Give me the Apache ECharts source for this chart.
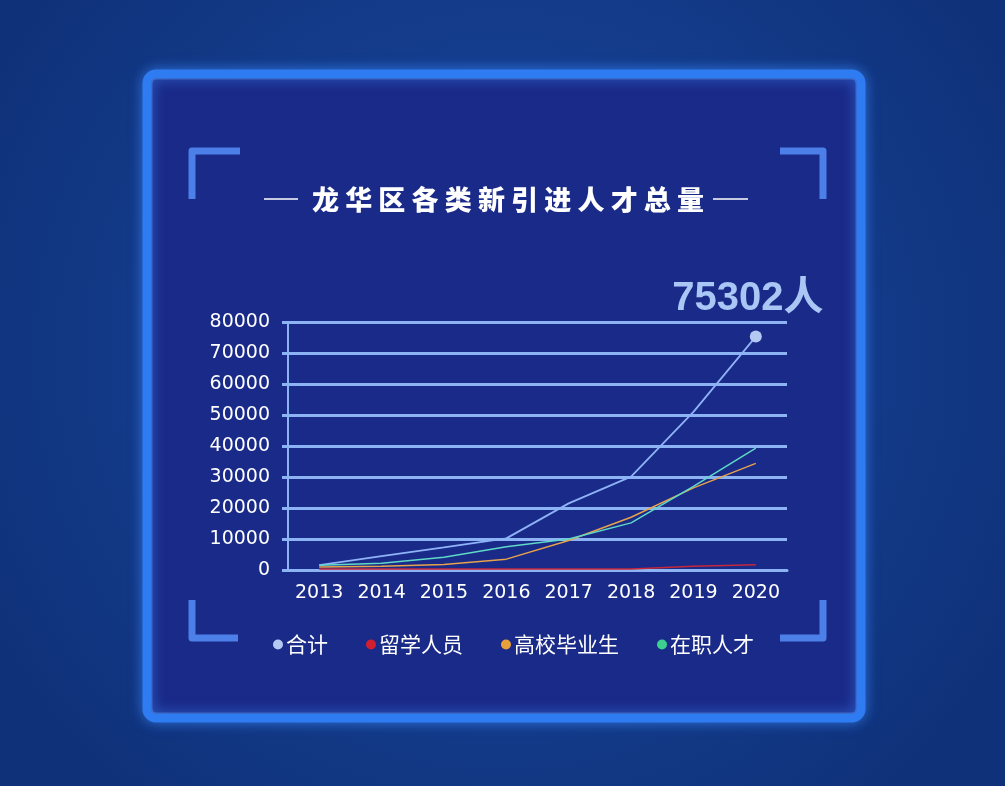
<!DOCTYPE html>
<html lang="zh">
<head>
    <meta charset="UTF-8">
    <title>龙华区各类新引进人才总量</title>
    <style>
        html, body { margin: 0; padding: 0; background: #143a88; }
        #main { width: 1005px; height: 786px; }
    </style>
    <script type="text/javascript" src="https://cdn.jsdelivr.net/npm/echarts@6/dist/echarts.min.js"></script>
</head>
<body>
<div id="main"></div>
<script>
    // 年份
    var years = ['2013', '2014', '2015', '2016', '2017', '2018', '2019', '2020'];
    // 各类人才（人）
    var total     = [1600, 4500, 7300, 10200, 21500, 30100, 51000, 75302];
    var overseas  = [300, 300, 300, 300, 300, 300, 1200, 1700];
    var graduates = [1000, 1200, 1800, 3500, 9500, 17000, 26500, 34400];
    var employed  = [1500, 2200, 4100, 7500, 10000, 15200, 27000, 39300];
    var yTicks = { min: 0, max: 80000, step: 10000 };

    var FONT = '"Noto Sans CJK SC", "Noto Sans", sans-serif';
    var NUM_FONT = '"Liberation Sans", Arial, "Noto Sans CJK SC", sans-serif';
    var AXIS_FONT = '"DejaVu Sans", "Liberation Sans", sans-serif';
    var gridColor = '#8cb4f5';
    var last = years.length - 1;

    var chart = echarts.init(document.getElementById('main'));

    function line(name, data, lineColor, iconColor) {
        return {
            name: name,
            type: 'line',
            data: data,
            symbol: 'circle',
            showSymbol: false,
            itemStyle: { color: iconColor },
            lineStyle: { color: lineColor, width: 1.5 },
            emphasis: { disabled: true }
        };
    }

    var totalSeries = line('合计', total, '#8fb3f7', '#b4c8f4');
    totalSeries.showSymbol = true;
    totalSeries.lineStyle.width = 1.8;
    // 只在最后一个点显示圆点和总数
    totalSeries.symbolSize = function (v, p) { return p.dataIndex === last ? 12 : 0; };
    totalSeries.label = {
        show: true,
        position: 'top',
        distance: 12,
        offset: [-8, 0],
        color: '#a9c6f5',
        fontFamily: NUM_FONT,
        fontWeight: 'bold',
        fontSize: 40,
        formatter: function (p) { return p.dataIndex === last ? p.value + '人' : ''; }
    };

    var option = {
        backgroundColor: {
            type: 'radial', x: 0.5, y: 0.45, r: 0.75,
            colorStops: [{ offset: 0, color: '#1a4aa2' }, { offset: 1, color: '#0f3179' }]
        },
        animation: false,
        graphic: [
            // 外框
            {
                type: 'rect', z: -10,
                shape: { x: 147, y: 74, width: 714, height: 644, r: 9 },
                style: { fill: '#1a2a88', stroke: '#2f7bf2', lineWidth: 9,
                         shadowBlur: 14, shadowColor: 'rgba(60,140,255,0.6)' }
            },
            {
                type: 'rect', z: -9,
                shape: { x: 152, y: 79, width: 704, height: 634, r: 4 },
                style: { fill: 'none', stroke: 'rgba(120,180,255,0.35)', lineWidth: 1 }
            },
            // 四角括号
            { type: 'polyline', z: -5, shape: { points: [[192, 199], [192, 151], [240, 151]] },
              style: { stroke: '#4d7fe8', lineWidth: 7, fill: 'none', lineJoin: 'round' } },
            { type: 'polyline', z: -5, shape: { points: [[780, 151], [823, 151], [823, 199]] },
              style: { stroke: '#4d7fe8', lineWidth: 7, fill: 'none', lineJoin: 'round' } },
            { type: 'polyline', z: -5, shape: { points: [[192, 600], [192, 638], [238, 638]] },
              style: { stroke: '#4d7fe8', lineWidth: 7, fill: 'none', lineJoin: 'round' } },
            { type: 'polyline', z: -5, shape: { points: [[780, 638], [823, 638], [823, 600]] },
              style: { stroke: '#4d7fe8', lineWidth: 7, fill: 'none', lineJoin: 'round' } },
            // 标题两侧短线
            { type: 'line', shape: { x1: 264, y1: 199, x2: 298, y2: 199 },
              style: { stroke: '#ffffff', lineWidth: 1.5 } },
            { type: 'line', shape: { x1: 713, y1: 199, x2: 748, y2: 199 },
              style: { stroke: '#ffffff', lineWidth: 1.5 } }
        ],
        title: {
            text: '龙 华 区 各 类 新 引 进 人 才 总 量',
            left: 503,
            top: 181,
            textAlign: 'center',
            textStyle: { color: '#ffffff', fontFamily: FONT, fontWeight: 900, fontSize: 27 }
        },
        legend: {
            left: 268,
            top: 629,
            icon: 'circle',
            itemWidth: 10,
            itemHeight: 10,
            itemGap: 38,
            textStyle: { color: '#ffffff', fontFamily: FONT, fontSize: 21, padding: [0, 0, 0, -2] },
            data: ['合计', '留学人员', '高校毕业生', '在职人才']
        },
        grid: { left: 288, right: 218, top: 322, bottom: 216, containLabel: false },
        xAxis: {
            type: 'category',
            data: years,
            boundaryGap: true,
            axisLine: { lineStyle: { color: gridColor, width: 3 } },
            axisTick: { show: false },
            axisLabel: { color: '#ffffff', fontFamily: AXIS_FONT, fontSize: 19, margin: 14,
                         interval: 0, hideOverlap: false }
        },
        yAxis: {
            type: 'value',
            min: yTicks.min,
            max: yTicks.max,
            interval: yTicks.step,
            axisLine: { show: true, lineStyle: { color: gridColor, width: 2 } },
            axisTick: { show: true, length: 6, lineStyle: { color: gridColor, width: 3 } },
            axisLabel: { color: '#ffffff', fontFamily: AXIS_FONT, fontSize: 19, margin: 18,
                         formatter: function (v) { return String(v); } },
            splitLine: { lineStyle: { color: gridColor, width: 3 } }
        },
        series: [
            totalSeries,
            line('留学人员', overseas, '#c4283a', '#d0202f'),
            line('高校毕业生', graduates, '#e7a24a', '#e8a03a'),
            line('在职人才', employed, '#5fd8c8', '#3ccf90')
        ]
    };
    chart.setOption(option);
</script>
</body>
</html>
